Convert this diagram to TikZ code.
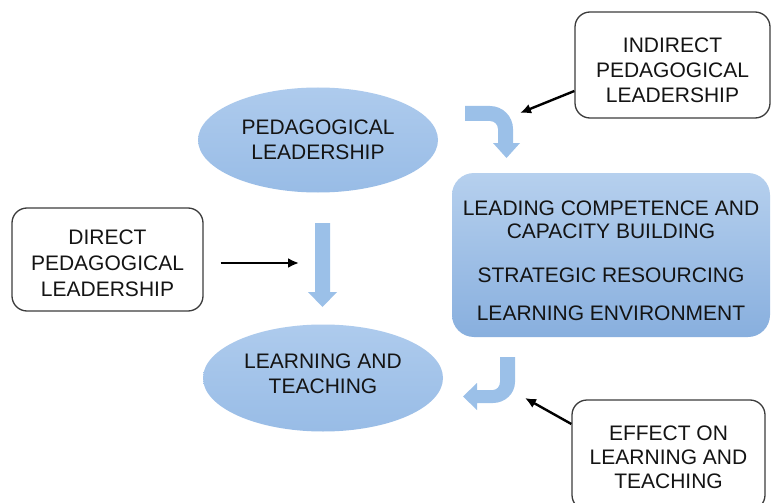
\documentclass[tikz,border=0pt]{standalone}
\usepackage{fontspec}
\setmainfont{Liberation Sans}
\usetikzlibrary{shapes.geometric,arrows.meta}
\definecolor{elltop}{RGB}{174,203,237}
\definecolor{ellbot}{RGB}{152,188,230}
\definecolor{recttop}{RGB}{182,208,238}
\definecolor{rectbot}{RGB}{136,175,222}
\definecolor{arrblue}{RGB}{155,192,232}
\definecolor{boxline}{RGB}{60,60,60}
\definecolor{txt}{RGB}{20,20,20}
\newcommand{\upby}[1]{\rule{0pt}{\dimexpr 15.3pt+#1\relax}}
\newcommand{\dnby}[1]{\rule[-#1]{0pt}{#1}}
\begin{document}
\begin{tikzpicture}[x=1pt,y=-1pt,
  lbl/.style={font=\fontsize{21}{25}\selectfont, text=txt, align=center},
  ell/.style={lbl, ellipse, top color=elltop, bottom color=ellbot, inner sep=0pt},
  outbox/.style={lbl, draw=boxline, line width=1.3pt, rounded corners=15pt, fill=white, inner sep=0pt},
  conn/.style={line width=2.4pt, -{Latex[length=11pt,width=10pt]}, black},
  barrow/.style={fill=arrblue}]
\useasboundingbox (0,0) rectangle (772,503);
\clip (0,0) rectangle (772,503);
\fill[white] (0,0) rectangle (772,503);

% ellipses
\node[ell, minimum width=240pt, minimum height=105pt] (pl) at (318,140) {PEDAGOGICAL\\LEADERSHIP};
\node[ell, minimum width=240pt, minimum height=107pt] (lt) at (323,378) {LEARNING AND\\TEACHING\dnby{8pt}};

% central box
\node[lbl, rounded corners=22pt, top color=recttop, bottom color=rectbot,
      minimum width=318pt, minimum height=164pt, inner sep=0pt,
      font=\fontsize{21}{23}\selectfont] (rb) at (611,255)
  {\upby{10pt}LEADING COMPETENCE AND\\CAPACITY BUILDING\\[21pt]STRATEGIC RESOURCING\\[15pt]LEARNING ENVIRONMENT};

% outline boxes
\node[outbox, minimum width=195pt, minimum height=106pt] (ind) at (672.5,65)
  {\upby{9pt}INDIRECT\\PEDAGOGICAL\\LEADERSHIP};
\node[outbox, minimum width=191pt, minimum height=103pt, font=\fontsize{21}{26}\selectfont] (dir) at (107.5,259.5)
  {\upby{6pt}DIRECT\\PEDAGOGICAL\\LEADERSHIP};
\node[outbox, minimum width=193pt, minimum height=110pt, font=\fontsize{21}{24}\selectfont] (eff) at (668.5,455)
  {\upby{4pt}EFFECT ON\\LEARNING AND\\TEACHING};

% blue block arrows
\fill[barrow] (315,223) -- (330,223) -- (330,292) -- (337,292) -- (322.5,307) -- (308,292) -- (315,292) -- cycle;
\fill[barrow] (465,106) -- (490,106) .. controls (502.7,106) and (513,116.3) .. (513,129)
  -- (513,143) -- (520,143) -- (506.5,158) -- (493,143) -- (498,143) -- (498,129)
  .. controls (498,124.6) and (494.4,121) .. (490,121) -- (465,121) -- cycle;
\fill[barrow] (500,357) -- (515,357) -- (515,382) .. controls (515,393.6) and (505.1,403) .. (493,403)
  -- (477,403) -- (477,410) -- (463,396.5) -- (477,383) -- (477,390) -- (493,390)
  .. controls (496.9,390) and (500,386.4) .. (500,382) -- cycle;

% connectors
\coordinate (it) at (520,113);
\coordinate (dt) at (299,263);
\coordinate (et) at (525,398);
\draw[conn] ([yshift=-26pt]ind.west) -- (it);
\draw[conn] ([xshift=17pt,yshift=-3.5pt]dir.east) -- (dt);
\draw[conn] ([yshift=31pt]eff.west) -- (et);
\end{tikzpicture}
\end{document}
